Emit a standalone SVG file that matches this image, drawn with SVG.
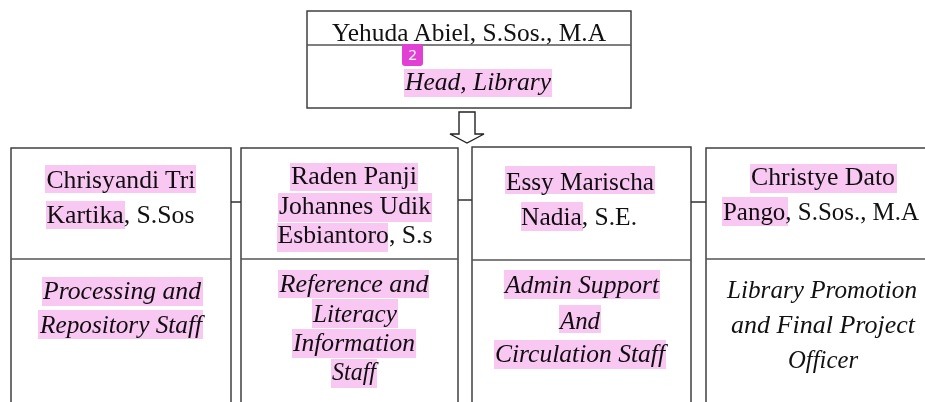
<svg xmlns="http://www.w3.org/2000/svg" width="925" height="402" viewBox="0 0 925 402">
<style>
.box{fill:none;stroke:#333;stroke-width:1.4}
.div{stroke:#555;stroke-width:1.6}
.con{fill:none;stroke:#222;stroke-width:1.4}
.nm{font-family:"Liberation Serif","Times New Roman",serif;font-size:26px;fill:#111;text-anchor:middle}
.rl{font-family:"Liberation Serif","Times New Roman",serif;font-size:25.5px;font-style:italic;fill:#111;text-anchor:middle}
.hl{fill:#f8c8f3;mix-blend-mode:multiply}
</style>
<rect width="925" height="402" fill="#fff"/>
<g id="connectors">
<path class="con" d="M459,112 H475 V134 H484 L467,143 L450,134 H459 Z" fill="#fff"/>
<line class="con" x1="231" y1="202" x2="241" y2="202"/>
<line class="con" x1="458" y1="200" x2="472" y2="200"/>
<line class="con" x1="691" y1="202" x2="706" y2="202"/>
</g>
<g id="head">
<rect class="box" x="307" y="11" width="324" height="97"/>
<line class="div" x1="307" y1="45" x2="631" y2="45"/>
<text class="nm" x="469" y="41" textLength="274" lengthAdjust="spacingAndGlyphs">Yehuda Abiel, S.Sos., M.A</text>
<text class="rl" x="478" y="90" textLength="146" lengthAdjust="spacingAndGlyphs">Head, Library</text>
<rect class="hl" x="404" y="69" width="148" height="28"/>
<rect x="402" y="44" width="21" height="22" rx="3" fill="#e23fd4"/>
<text x="412.5" y="60" font-family="'Noto Sans','DejaVu Sans',sans-serif" font-size="15" fill="#fff" text-anchor="middle">2</text>
</g>
<g id="staff1">
<rect class="box" x="11" y="148" width="220" height="270"/>
<line class="div" x1="11" y1="259" x2="231" y2="259"/>
<text class="nm" x="121" y="188" textLength="149" lengthAdjust="spacingAndGlyphs">Chrisyandi Tri</text>
<text class="nm" x="120.5" y="223" textLength="148" lengthAdjust="spacingAndGlyphs">Kartika, S.Sos</text>
<text class="rl" x="122" y="299" textLength="158" lengthAdjust="spacingAndGlyphs">Processing and</text>
<text class="rl" x="121" y="333" textLength="162" lengthAdjust="spacingAndGlyphs">Repository Staff</text>
<rect class="hl" x="45" y="165" width="151" height="28"/>
<rect class="hl" x="46" y="201" width="79" height="28"/>
<rect class="hl" x="42" y="277" width="161" height="29"/>
<rect class="hl" x="38" y="310" width="165" height="29"/>
</g>
<g id="staff2">
<rect class="box" x="241" y="148" width="217" height="270"/>
<line class="div" x1="241" y1="259" x2="458" y2="259"/>
<text class="nm" x="354" y="184" textLength="126" lengthAdjust="spacingAndGlyphs">Raden Panji</text>
<text class="nm" x="355" y="214" textLength="152" lengthAdjust="spacingAndGlyphs">Johannes Udik</text>
<text class="nm" x="355" y="243" textLength="155" lengthAdjust="spacingAndGlyphs">Esbiantoro, S.s</text>
<text class="rl" x="354" y="292" textLength="149" lengthAdjust="spacingAndGlyphs">Reference and</text>
<text class="rl" x="355" y="322" textLength="84" lengthAdjust="spacingAndGlyphs">Literacy</text>
<text class="rl" x="354" y="351" textLength="122" lengthAdjust="spacingAndGlyphs">Information</text>
<text class="rl" x="354" y="380" textLength="44" lengthAdjust="spacingAndGlyphs">Staff</text>
<rect class="hl" x="290" y="163" width="128" height="28"/>
<rect class="hl" x="278" y="193" width="154" height="29"/>
<rect class="hl" x="277" y="223" width="111" height="29"/>
<rect class="hl" x="278" y="270" width="151" height="28"/>
<rect class="hl" x="312" y="299" width="86" height="29"/>
<rect class="hl" x="292" y="329" width="124" height="29"/>
<rect class="hl" x="331" y="359" width="46" height="29"/>
</g>
<g id="staff3">
<rect class="box" x="472" y="147" width="219" height="271"/>
<line class="div" x1="472" y1="260" x2="691" y2="260"/>
<text class="nm" x="580" y="190" textLength="148" lengthAdjust="spacingAndGlyphs">Essy Marischa</text>
<text class="nm" x="579" y="225" textLength="116" lengthAdjust="spacingAndGlyphs">Nadia, S.E.</text>
<text class="rl" x="582" y="293" textLength="154" lengthAdjust="spacingAndGlyphs">Admin Support</text>
<text class="rl" x="580" y="329" textLength="40" lengthAdjust="spacingAndGlyphs">And</text>
<text class="rl" x="580" y="362" textLength="170" lengthAdjust="spacingAndGlyphs">Circulation Staff</text>
<rect class="hl" x="505" y="166" width="150" height="28"/>
<rect class="hl" x="521" y="202" width="62" height="29"/>
<rect class="hl" x="504" y="270" width="156" height="29"/>
<rect class="hl" x="559" y="305" width="42" height="28"/>
<rect class="hl" x="494" y="340" width="172" height="29"/>
</g>
<g id="staff4">
<rect class="box" x="706" y="148" width="222" height="270"/>
<line class="div" x1="706" y1="259" x2="928" y2="259"/>
<text class="nm" x="823" y="185" textLength="144" lengthAdjust="spacingAndGlyphs">Christye Dato</text>
<text class="nm" x="821" y="220" textLength="196" lengthAdjust="spacingAndGlyphs">Pango, S.Sos., M.A</text>
<text class="rl" x="822" y="298" textLength="190" lengthAdjust="spacingAndGlyphs">Library Promotion</text>
<text class="rl" x="823" y="333" textLength="184" lengthAdjust="spacingAndGlyphs">and Final Project</text>
<text class="rl" x="823" y="368" textLength="70" lengthAdjust="spacingAndGlyphs">Officer</text>
<rect class="hl" x="750" y="164" width="147" height="29"/>
<rect class="hl" x="722" y="197" width="66" height="29"/>
</g>
</svg>
